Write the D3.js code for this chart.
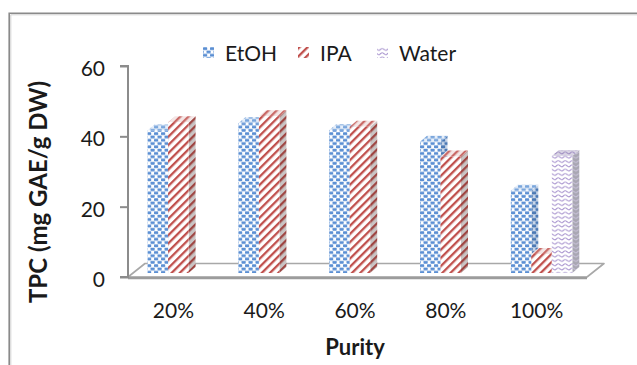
<!DOCTYPE html>
<html>
<head>
<meta charset="utf-8">
<script src="https://cdn.jsdelivr.net/npm/d3@7"></script>
<style>
  html, body { margin: 0; padding: 0; background: #fff; }
  svg { display: block; }
  text { font-family: Lato, "Open Sans", sans-serif; fill: #1a1a1a; }
</style>
</head>
<body>
<svg id="chart" width="637" height="365"></svg>
<script>
// Total phenolic content by solvent purity
const categories = ["20%", "40%", "60%", "80%", "100%"];
const seriesNames = ["EtOH", "IPA", "Water"];
const etohValues = [40.5, 42.6, 40.6, 37.3, 23.4];
const ipaValues = [42.9, 44.6, 41.6, 33.1, 5.4];
const waterValues = [null, null, null, null, 33.3];
const yTicks = [0, 20, 40, 60];
const yTitle = "TPC (mg GAE/g DW)";
const xTitle = "Purity";

const seriesValues = [etohValues, ipaValues, waterValues];

const svg = d3.select("#chart");
const defs = svg.append("defs");

// ---- fill patterns -------------------------------------------------------
function checker(id, bg, fg) {
  const p = defs.append("pattern").attr("id", id).attr("patternUnits", "userSpaceOnUse")
    .attr("width", 7).attr("height", 6.6);
  p.append("rect").attr("width", 7).attr("height", 6.6).attr("fill", bg);
  p.append("rect").attr("x", 0).attr("y", 0.3).attr("width", 4.2).attr("height", 2.8).attr("rx", 0.7).attr("fill", fg);
  p.append("rect").attr("x", 3.5).attr("y", 3.6).attr("width", 4.2).attr("height", 2.8).attr("rx", 0.7).attr("fill", fg);
  p.append("rect").attr("x", -3.5).attr("y", 3.6).attr("width", 4.2).attr("height", 2.8).attr("rx", 0.7).attr("fill", fg);
}
function stripes(id, bg, fg) {
  const p = defs.append("pattern").attr("id", id).attr("patternUnits", "userSpaceOnUse")
    .attr("width", 5.8).attr("height", 10).attr("patternTransform", "rotate(45)");
  p.append("rect").attr("width", 5.8).attr("height", 10).attr("fill", bg);
  p.append("rect").attr("x", 0).attr("width", 2.3).attr("height", 10).attr("fill", fg);
}
function waves(id, bg, fg) {
  const p = defs.append("pattern").attr("id", id).attr("patternUnits", "userSpaceOnUse")
    .attr("width", 7).attr("height", 4.3);
  p.append("rect").attr("width", 7).attr("height", 4.3).attr("fill", bg);
  p.append("path").attr("d", "M-3.5,2.4 Q-1.75,0.6 0,2.4 T3.5,2.4 T7,2.4 T10.5,2.4")
    .attr("fill", "none").attr("stroke", fg).attr("stroke-width", 1.05);
}

checker("etoh-front", "#ffffff", "#5b8fd3");
checker("etoh-side", "#c9d6e8", "#4a78b4");
checker("etoh-top", "#e6eef9", "#7aa6dc");
stripes("ipa-front", "#ffffff", "#c0504d");
stripes("ipa-side", "#c9c4c4", "#9e4542");
stripes("ipa-top", "#f4e6e6", "#c96a67");
waves("water-front", "#ffffff", "#a995cf");
waves("water-side", "#a9a7b3", "#c8c2d8");
waves("water-top", "#d8d3e3", "#a291c4");

const fillIds = {
  EtOH: ["etoh-front", "etoh-side", "etoh-top"],
  IPA: ["ipa-front", "ipa-side", "ipa-top"],
  Water: ["water-front", "water-side", "water-top"]
};

// ---- scales --------------------------------------------------------------
const y = d3.scaleLinear().domain([0, 60]).range([277, 66]);
const x = d3.scaleBand().domain(categories).range([128, 582]);
const xs = d3.scaleBand().domain(seriesNames).range([14.6, 76.1]);

// oblique projection: floor depth, bar placement within floor, bar depth
const floorDepth = [17, -13.5];
const barShift = [5, -4];
const barDepth = [7, -6];

// ---- chart frame ---------------------------------------------------------
svg.append("path").attr("d", "M9.2,365 V13.2 H637").attr("fill", "none")
  .attr("stroke", "#8a8a8a").attr("stroke-width", 1.6);
svg.append("path").attr("d", "M10.8,365 V14.8 H637").attr("fill", "none")
  .attr("stroke", "#d0d0d0").attr("stroke-width", 1);

// ---- floor ---------------------------------------------------------------
const fx0 = x.range()[0], fx1 = x.range()[1] + 5, fy = y(0);
svg.append("polygon")
  .attr("points", [[fx0, fy], [fx1, fy], [fx1 + floorDepth[0], fy + floorDepth[1]], [fx0 + floorDepth[0], fy + floorDepth[1]]].map(p => p.join(",")).join(" "))
  .attr("fill", "#ffffff").attr("stroke", "#a8a8a8").attr("stroke-width", 1.6).attr("stroke-linejoin", "round");
svg.append("line").attr("x1", fx0).attr("x2", fx1).attr("y1", fy + 1).attr("y2", fy + 1)
  .attr("stroke", "#9c9c9c").attr("stroke-width", 2.4);

// ---- bars ----------------------------------------------------------------
const bars = [];
categories.forEach((c, i) => {
  seriesNames.forEach((s, j) => {
    const v = seriesValues[j][i];
    if (v == null) return;
    bars.push({ c, s, v });
  });
});

const g = svg.append("g");
bars.forEach(d => {
  const x0 = x(d.c) + xs(d.s) + barShift[0];
  const w = xs.bandwidth();
  const top = y(d.v) + barShift[1];
  const bot = y(0) + barShift[1];
  const [dx, dy] = barDepth;
  const ids = fillIds[d.s];
  const bg = g.append("g");
  bg.append("polygon")
    .attr("points", [[x0 + w, top], [x0 + w + dx, top + dy], [x0 + w + dx, bot + dy], [x0 + w, bot]].map(p => p.join(",")).join(" "))
    .attr("fill", `url(#${ids[1]})`);
  bg.append("polygon")
    .attr("points", [[x0, top], [x0 + dx, top + dy], [x0 + w + dx, top + dy], [x0 + w, top]].map(p => p.join(",")).join(" "))
    .attr("fill", `url(#${ids[2]})`);
  bg.append("rect").attr("x", x0).attr("y", top).attr("width", w).attr("height", bot - top)
    .attr("fill", `url(#${ids[0]})`);
});

// ---- value axis ----------------------------------------------------------
const yAxis = svg.append("g").attr("transform", `translate(${x.range()[0]},0)`)
  .call(d3.axisLeft(y).tickValues(yTicks).tickSize(8).tickPadding(15).tickFormat(d3.format("d")));
yAxis.select(".domain").attr("stroke", "#8c8c8c").attr("stroke-width", 2).attr("d", `M-8,${y(60)}H0V${y(0)}H-8`);
yAxis.selectAll(".tick line").attr("stroke", "#8c8c8c").attr("stroke-width", 2);
yAxis.selectAll(".tick text").attr("font-size", 21).attr("font-family", "Lato")
  .attr("fill", "#1a1a1a").attr("dy", "0.45em");

// ---- category axis -------------------------------------------------------
const xAxis = svg.append("g").attr("transform", `translate(0,${y(0)})`)
  .call(d3.axisBottom(x).tickSize(0).tickPadding(0));
xAxis.select(".domain").remove();
xAxis.selectAll(".tick text").attr("font-size", 21).attr("font-family", "Lato")
  .attr("fill", "#1a1a1a").attr("y", 34).attr("dy", "0.35em");

// ---- titles --------------------------------------------------------------
svg.append("text").attr("x", x(categories[2]) + x.bandwidth() / 2).attr("y", 346)
  .attr("text-anchor", "middle").attr("dominant-baseline", "central")
  .attr("font-size", 22).attr("font-weight", "bold").text(xTitle);
svg.append("text").attr("transform", "translate(37,192) rotate(-90)")
  .attr("text-anchor", "middle").attr("dominant-baseline", "central")
  .attr("font-size", 24).attr("font-weight", "bold").text(yTitle);

// ---- legend --------------------------------------------------------------
const legendX = [203, 298, 377];
const legend = svg.append("g");
seriesNames.forEach((s, i) => {
  const lg = legend.append("g").attr("transform", `translate(${legendX[i]},47)`);
  lg.append("rect").attr("width", 11).attr("height", 11).attr("fill", `url(#${fillIds[s][0]})`);
  lg.append("text").attr("x", 22).attr("y", 5.5).attr("dominant-baseline", "central")
    .attr("font-size", 21).text(s);
});
</script>
</body>
</html>
